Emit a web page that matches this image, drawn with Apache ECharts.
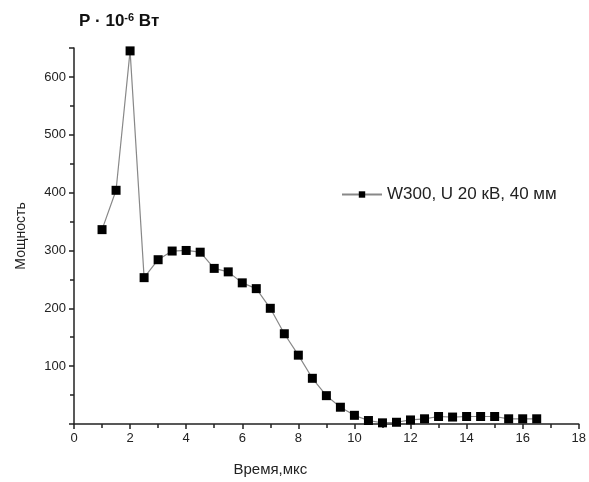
<!DOCTYPE html>
<html>
<head>
<meta charset="utf-8">
<script src="https://cdn.jsdelivr.net/npm/echarts@6/dist/echarts.min.js"></script>
<style>
  html, body { margin: 0; padding: 0; background: #fff; }
</style>
</head>
<body>
<div id="chart" style="width:589px;height:482px"></div>
<script>
var seriesName = 'W300, U 20 кВ, 40 мм'
var timeUs = [1, 1.5, 2, 2.5, 3, 3.5, 4, 4.5, 5, 5.5, 6, 6.5, 7, 7.5, 8, 8.5, 9, 9.5, 10,
  10.5, 11, 11.5, 12, 12.5, 13, 13.5, 14, 14.5, 15, 15.5, 16, 16.5]
var power = [336, 404, 645, 253, 284, 299, 300, 297, 269, 263, 244, 234, 200, 156, 119, 79, 49, 29, 15,
  6, 2, 3, 7, 9, 13, 12, 13, 13, 13, 9, 9, 9]

var points = []
for (var i = 0; i < timeUs.length; i++) {
  points.push([timeUs[i], power[i]])
}

var myChart = echarts.init(document.getElementById('chart'))
var font = 'Liberation Sans, Arial, sans-serif'
var axisText = { color: '#222', fontSize: 13, fontFamily: font }
myChart.setOption({
  backgroundColor: '#fff',
  animation: false,
  title: {
    text: '{b|P · 10}{s|-6}{b| Вт}',
    left: 74,
    top: 7,
    textStyle: {
      rich: {
        b: { fontSize: 17, fontWeight: 'bold', color: '#111', fontFamily: font },
        s: { fontSize: 11, fontWeight: 'bold', color: '#111', verticalAlign: 'top', padding: [0, 0, 8, 0], fontFamily: font }
      }
    }
  },
  legend: {
    data: [seriesName],
    left: 336,
    top: 181,
    itemWidth: 40,
    itemHeight: 8,
    itemGap: 5,
    textStyle: { color: '#222', fontSize: 17, fontFamily: font }
  },
  grid: { left: 74, right: 9, top: 48, bottom: 57 },
  xAxis: {
    type: 'value',
    min: 0,
    max: 18,
    interval: 2,
    name: 'Время,мкс',
    nameLocation: 'middle',
    nameGap: 38,
    // the name sits left of the axis centre in the original
    nameTextStyle: { color: '#222', fontSize: 15, fontFamily: font, padding: [0, 112, 0, 0] },
    axisLine: { show: true, lineStyle: { color: '#222', width: 1.5 } },
    axisTick: { show: true, inside: false, length: 5, lineStyle: { color: '#222', width: 1.5 } },
    minorTick: { show: true, splitNumber: 2, length: 4, lineStyle: { color: '#222', width: 1.5 } },
    axisLabel: axisText,
    splitLine: { show: false }
  },
  yAxis: {
    type: 'value',
    min: 0,
    max: 650,
    interval: 100,
    name: 'Мощность',
    nameLocation: 'middle',
    nameGap: 46,
    nameTextStyle: { color: '#222', fontSize: 14, fontFamily: font },
    axisLine: { show: true, lineStyle: { color: '#222', width: 1.5 } },
    axisTick: { show: true, inside: false, length: 5, lineStyle: { color: '#222', width: 1.5 } },
    minorTick: { show: true, splitNumber: 2, length: 4, lineStyle: { color: '#222', width: 1.5 } },
    axisLabel: Object.assign({}, axisText, {
      formatter: function(v) { return v === 0 || v > 600 ? '' : String(v) }
    }),
    splitLine: { show: false }
  },
  series: [
    {
      name: seriesName,
      type: 'line',
      data: points,
      symbol: 'rect',
      symbolSize: 9,
      itemStyle: { color: '#000' },
      lineStyle: { color: '#888', width: 1.2 }
    }
  ]
})
</script>
</body>
</html>
